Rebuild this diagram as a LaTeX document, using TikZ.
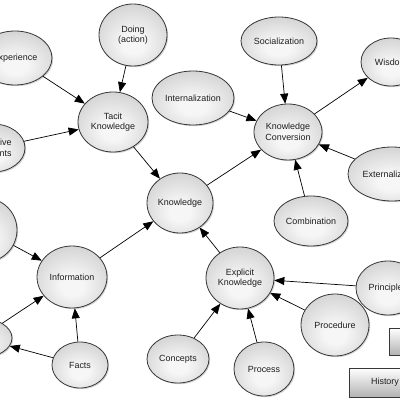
\documentclass[tikz,border=0pt]{standalone}
\usepackage{fontspec}
\setmainfont{Liberation Sans}
\usetikzlibrary{shapes.geometric, arrows.meta, shadows}
\definecolor{myline}{RGB}{55,55,55}
\definecolor{mylight}{RGB}{246,246,246}
\definecolor{mygray}{RGB}{178,178,178}
\definecolor{mytext}{RGB}{30,30,30}
\pgfdeclareradialshading{conceptshade}{\pgfpoint{0bp}{-8bp}}{%
  color(0bp)=(mylight); color(8bp)=(mylight); color(52bp)=(mygray); color(70bp)=(mygray)}
\tikzset{
  concept/.style={ellipse, draw=myline, line width=0.8pt, inner sep=0pt,
    shading=conceptshade,
    drop shadow={shadow xshift=1.2pt, shadow yshift=-1.2pt, opacity=0.35},
    align=center, font=\fontsize{8.9}{10.5}\selectfont, text=mytext},
  tab/.style={rectangle, draw=myline, line width=0.8pt, inner sep=0pt,
    top color=white, bottom color=mygray,
    drop shadow={shadow xshift=1.2pt, shadow yshift=-1.2pt, opacity=0.35},
    font=\fontsize{8.9}{10.5}\selectfont, text=mytext},
  arrow/.style={-{Triangle[length=10pt, width=8pt]}, line width=0.7pt, color=black}
}
\begin{document}
\begin{tikzpicture}[x=0.35mm, y=-0.35mm]
\useasboundingbox (0,0) rectangle (400,400);
\begin{scope}
\clip (0,0) rectangle (400,400);
% concepts: name / x / y / half width / half height / text
\foreach \nm/\px/\py/\rx/\ry/\lbl in {
  exper/15/58/37/27/Experience, doing/133/35/34/31/{Doing\\(action)},
  tacit/113/122/35/30/{Tacit\\Knowledge}, cogn/-7/148/32/24/{Cognitive\\Elements},
  know/180/203/33/30/Knowledge, inter/193/98/41/27/Internalization,
  social/279/41/38/24/Socialization, conv/288/132/34/28/{Knowledge\\Conversion},
  wisdom/391/62/30/24/Wisdom, extern/392/174/44/27/Externalization,
  combi/311/221/37/25/Combination, explicit/240/278/34/31/{Explicit\\Knowledge},
  princ/388/288/32/27/Principles, proced/335/325/34/31/Procedure,
  process/264/369/30/27/Process, concepts/178/359/31/24/Concepts,
  info/72/277/35/31/Information, data/-15/230/32/32/{},
  leftb/-20/338/32/20/{}, facts/80/365/28/23/Facts} {
  \node[concept, minimum width=2*\rx*0.35mm, minimum height=2*\ry*0.35mm] (\nm) at (\px,\py) {\lbl};
}
\node[tab, minimum width=72*0.35mm, minimum height=27*0.35mm] (tabA) at (425,341.5) {};
\node[tab, minimum width=72*0.35mm, minimum height=29*0.35mm] (tabB) at (385,382.5) {History};
% links
\foreach \a/\b in {exper/tacit, doing/tacit, cogn/tacit, tacit/know, know/conv,
  inter/conv, social/conv, conv/wisdom, extern/conv, combi/conv, explicit/know,
  princ/explicit, proced/explicit, process/explicit, concepts/explicit,
  info/know, data/info, leftb/info, facts/leftb, facts/info}
  \draw[arrow] (\a) -- (\b);
\end{scope}
\end{tikzpicture}
\end{document}
